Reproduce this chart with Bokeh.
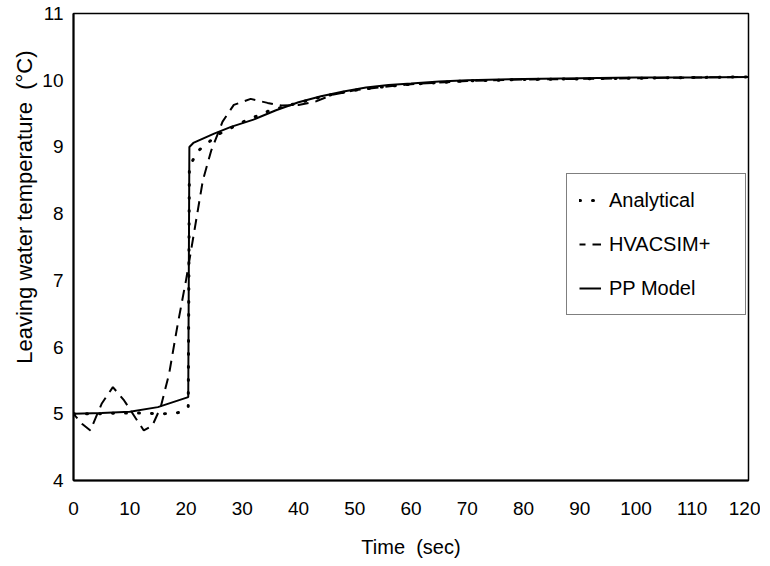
from bokeh.plotting import figure
from bokeh.models import Range1d, FixedTicker, Legend, LegendItem, Title
from bokeh.embed import file_html
from bokeh.resources import INLINE

# ---- data ----
x_ticks = [0, 10, 20, 30, 40, 50, 60, 70, 80, 90, 100, 110, 120]
y_ticks = [4, 5, 6, 7, 8, 9, 10, 11]

t_analytical = [0, 4, 8, 12, 16, 19, 20.4, 20.6, 22, 24, 26, 30, 35, 40, 45, 50,
                55, 60, 70, 80, 90, 100, 110, 120]
T_analytical = [5.0, 5.0, 5.01, 5.01, 5.0, 5.02, 5.1, 8.7, 8.93, 9.07, 9.2, 9.37,
                9.55, 9.66, 9.77, 9.85, 9.9, 9.94, 9.99, 10.01, 10.02, 10.03, 10.04, 10.05]

t_hvacsim = [0, 1.5, 3, 5, 7, 9, 11, 12.5, 14, 15.5, 17, 18.5, 20, 21.5, 23, 24.5,
             26.5, 28.5, 31.5, 34.5, 37, 40, 43, 46, 50, 55, 60, 70, 80, 90, 100, 110, 120]
T_hvacsim = [5.0, 4.85, 4.75, 5.15, 5.4, 5.2, 4.94, 4.75, 4.82, 5.1, 5.6, 6.33, 7.0,
             7.75, 8.5, 8.95, 9.38, 9.63, 9.72, 9.66, 9.62, 9.63, 9.68, 9.78, 9.85,
             9.9, 9.94, 9.99, 10.01, 10.02, 10.03, 10.04, 10.05]

t_pp = [0, 5, 10, 15, 20.4, 20.6, 21.3, 22.6, 25, 28, 32, 36, 40, 44, 48, 52, 56,
        60, 65, 70, 80, 90, 100, 110, 120]
T_pp = [5.0, 5.01, 5.03, 5.1, 5.25, 9.0, 9.06, 9.11, 9.2, 9.3, 9.41, 9.55, 9.67,
        9.76, 9.83, 9.89, 9.93, 9.95, 9.98, 10.0, 10.02, 10.03, 10.04, 10.04, 10.05]

series_labels = ["Analytical", "HVACSIM+", "PP Model"]

FONT = "Liberation Sans"

p = figure(width=760, height=560, output_backend="svg", toolbar_location=None,
           x_range=Range1d(0, 120), y_range=Range1d(4, 11),
           min_border_left=73, min_border_right=12, min_border_top=13,
           min_border_bottom=77)
p.background_fill_color = "white"
p.border_fill_color = "white"
p.xgrid.visible = False
p.ygrid.visible = False
p.outline_line_color = "black"
p.outline_line_width = 1.5

for ax in (p.xaxis[0], p.yaxis[0]):
    ax.axis_line_color = "black"
    ax.axis_line_width = 2
    ax.major_tick_line_color = None
    ax.minor_tick_line_color = None
    ax.major_tick_out = 0
    ax.major_tick_in = 0
    ax.major_label_text_font = FONT
    ax.major_label_text_font_size = "19px"
    ax.major_label_text_color = "black"
    ax.axis_label_text_font = FONT
    ax.axis_label_text_font_size = "20px"
    ax.axis_label_text_font_style = "normal"
    ax.axis_label_text_color = "black"

p.xaxis.ticker = FixedTicker(ticks=x_ticks)
p.yaxis.ticker = FixedTicker(ticks=y_ticks)
p.xaxis.major_label_standoff = 21
p.yaxis.major_label_standoff = 10
p.xaxis.axis_label = "Time\u00a0\u00a0(sec)"
p.xaxis.axis_label_standoff = 18

ytitle = Title(text="Leaving water temperature\u00a0\u00a0(\u00b0C)", align="right",
               offset=37, text_font=FONT, text_font_size="22px",
               text_font_style="normal", text_color="black", standoff=6)
p.add_layout(ytitle, "left")

r_an = p.line(t_analytical, T_analytical, line_color="black", line_width=3,
              line_dash="1 12", line_cap="round")
r_hv = p.line(t_hvacsim, T_hvacsim, line_color="black", line_width=2,
              line_dash="11 7", line_dash_offset=5)
r_pp = p.line(t_pp, T_pp, line_color="black", line_width=2)

legend = Legend(items=[LegendItem(label=series_labels[0], renderers=[r_an]),
                       LegendItem(label=series_labels[1], renderers=[r_hv]),
                       LegendItem(label=series_labels[2], renderers=[r_pp])],
                location=(493, 165))
legend.label_text_font = FONT
legend.label_text_font_size = "20px"
legend.label_text_color = "black"
legend.border_line_color = "black"
legend.border_line_width = 1.5
legend.background_fill_color = "white"
legend.background_fill_alpha = 1.0
legend.padding = 12
legend.margin = 0
legend.spacing = 16
legend.label_height = 28
legend.glyph_height = 28
legend.glyph_width = 22
legend.label_standoff = 8
legend.label_width = 124
p.add_layout(legend, "center")

open("out.html", "w").write(file_html(p, INLINE))
